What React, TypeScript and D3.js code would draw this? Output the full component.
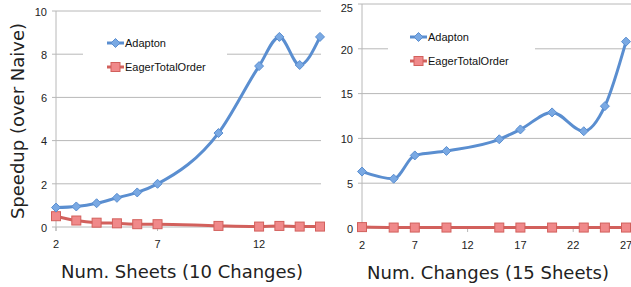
import React from "react";
import * as d3 from "d3";

// left panel: speedup vs number of sheets
const sheetCounts: number[] = [2, 3, 4, 5, 6, 7, 10, 12, 13, 14, 15];
const sheetsAdapton: number[] = [0.9, 0.95, 1.1, 1.35, 1.6, 2.0, 4.35, 7.45, 8.8, 7.5, 8.8];
const sheetsEager: number[] = [0.5, 0.3, 0.2, 0.17, 0.13, 0.13, 0.05, 0.02, 0.05, 0.02, 0.02];
const sheetTicksX: number[] = [2, 7, 12];
const sheetTicksY: number[] = [0, 2, 4, 6, 8, 10];

// right panel: speedup vs number of changes
const changeCounts: number[] = [2, 5, 7, 10, 15, 17, 20, 23, 25, 27];
const changesAdapton: number[] = [6.3, 5.5, 8.1, 8.6, 9.9, 11.0, 12.9, 10.8, 13.6, 20.8];
const changesEager: number[] = [0.1, 0.05, 0.05, 0.05, 0.05, 0.05, 0.05, 0.05, 0.05, 0.05];
const changeTicksX: number[] = [2, 7, 12, 17, 22, 27];
const changeTicksY: number[] = [0, 5, 10, 15, 20, 25];

const seriesNames: string[] = ["Adapton", "EagerTotalOrder"];

const BlueLine = "#5A8ED0";
const BlueFill = "#7AA9E3";
const RedLine = "#D2605C";
const RedFill = "#F0898A";
const GridColor = "#B8B8B8";
const TickFont = "'Liberation Sans', Arial, sans-serif";
const TitleFont = "'DejaVu Sans', sans-serif";

interface PanelProps {
  xs: number[];
  adapton: number[];
  eager: number[];
  ticksX: number[];
  ticksY: number[];
  xDomain: [number, number];
  yMax: number;
  left: number;
  right: number;
  top: number;
  bottom: number;
  gridRight: number;
  legendX: number;
  legendY: number;
  legendGap: [number, number];
  title: string;
}

function Diamond({x, y}: {x: number; y: number}) {
  const r = 4.5;
  return <path d={`M${x},${y - r}L${x + r},${y}L${x},${y + r}L${x - r},${y}Z`} fill={BlueFill} stroke={BlueLine} strokeWidth={1} />;
}

function Square({x, y}: {x: number; y: number}) {
  const r = 4.5;
  return <rect x={x - r} y={y - r} width={2 * r} height={2 * r} fill={RedFill} stroke={RedLine} strokeWidth={1} />;
}

function Panel(props: PanelProps) {
  const x = d3.scaleLinear().domain(props.xDomain).range([props.left, props.right]);
  const y = d3.scaleLinear().domain([0, props.yMax]).range([props.bottom, props.top]);
  const line = d3.line<number>().x((_, i) => x(props.xs[i])).y((d) => y(d)).curve(d3.curveMonotoneX);
  const topTick = props.ticksY[props.ticksY.length - 1];
  const legendRow = props.ticksY[props.ticksY.length - 2];

  return (
    <g>
      {props.ticksY.map((t) => {
        const yy = y(t);
        if (t === 0) return null;
        if (t === legendRow) {
          return (
            <g key={t}>
              <line x1={props.left} x2={props.legendGap[0]} y1={yy} y2={yy} stroke={GridColor} />
              <line x1={props.legendGap[1]} x2={props.gridRight} y1={yy} y2={yy} stroke={GridColor} />
            </g>
          );
        }
        return <line key={t} x1={props.left} x2={props.gridRight} y1={yy} y2={yy} stroke={GridColor} />;
      })}
      <line x1={props.left} x2={props.gridRight} y1={y(0)} y2={y(0)} stroke={GridColor} />
      <line x1={props.left} x2={props.left} y1={y(topTick)} y2={y(0) + 4} stroke={GridColor} />
      {props.ticksY.map((t) => (
        <g key={"yl" + t}>
          <line x1={props.left - 4} x2={props.left} y1={y(t)} y2={y(t)} stroke={GridColor} />
          <text x={props.left - 9} y={Math.max(y(t) + 1, 8)} dy="0.35em" textAnchor="end" fontFamily={TickFont} fontSize={11} fill="#222">{t}</text>
        </g>
      ))}
      {props.ticksX.map((t) => (
        <g key={"xl" + t}>
          <line x1={x(t)} x2={x(t)} y1={y(0)} y2={y(0) + 4} stroke={GridColor} />
          <text x={x(t)} y={y(0) + 21} textAnchor="middle" fontFamily={TickFont} fontSize={11} fill="#222">{t}</text>
        </g>
      ))}
      <path d={line(props.eager) ?? ""} fill="none" stroke={RedLine} strokeWidth={3} />
      <path d={line(props.adapton) ?? ""} fill="none" stroke={BlueLine} strokeWidth={3} />
      {props.eager.map((v, i) => <Square key={"e" + i} x={x(props.xs[i])} y={y(v)} />)}
      {props.adapton.map((v, i) => <Diamond key={"a" + i} x={x(props.xs[i])} y={y(v)} />)}
      {seriesNames.map((name, i) => {
        const ly = props.legendY + i * 24;
        return (
          <g key={name}>
            <line x1={props.legendX} x2={props.legendX + 17} y1={ly} y2={ly} stroke={i === 0 ? BlueLine : RedLine} strokeWidth={3} />
            {i === 0 ? <Diamond x={props.legendX + 8.5} y={ly} /> : <Square x={props.legendX + 8.5} y={ly} />}
            <text x={props.legendX + 18} y={ly} dy="0.35em" fontFamily={TickFont} fontSize={11} fill="#111">{name}</text>
          </g>
        );
      })}
      <text x={(props.left + props.right) / 2 - 6} y={y(0) + 51} textAnchor="middle" fontFamily={TitleFont} fontSize={18} fill="#222">{props.title}</text>
    </g>
  );
}

export default function App(): React.ReactElement {
  return (
    <svg width={631} height={287} style={{position: "absolute", left: 0, top: 0, background: "#fff"}}>
      <Panel xs={sheetCounts} adapton={sheetsAdapton} eager={sheetsEager} ticksX={sheetTicksX} ticksY={sheetTicksY}
        xDomain={[2, 15]} yMax={10} left={56} right={320} top={11} bottom={227} gridRight={321}
        legendX={107} legendY={43} legendGap={[83, 227]} title="Num. Sheets (10 Changes)" />
      <Panel xs={changeCounts} adapton={changesAdapton} eager={changesEager} ticksX={changeTicksX} ticksY={changeTicksY}
        xDomain={[2, 27]} yMax={25} left={362} right={626} top={4} bottom={228} gridRight={631}
        legendX={410} legendY={37} legendGap={[388, 535]} title="Num. Changes (15 Sheets)" />
      <text transform="translate(24,121) rotate(-90)" textAnchor="middle" fontFamily={TitleFont} fontSize={18} fill="#222">Speedup (over Naive)</text>
    </svg>
  );
}
